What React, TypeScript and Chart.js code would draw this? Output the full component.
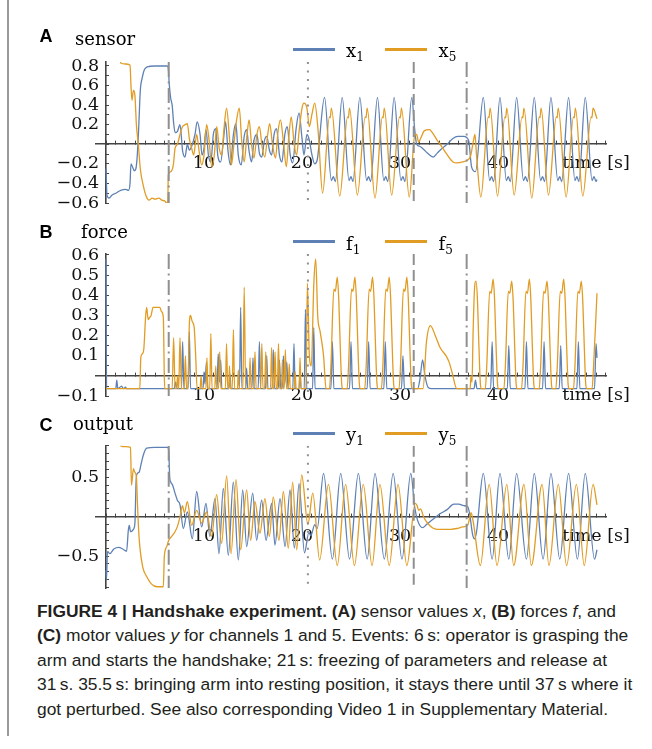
import React, { useEffect, useRef } from 'react';
import { Chart, registerables } from 'chart.js';

Chart.register(...registerables);

type Pt = [number, number];

const BLUE = '#5E81B5';
const ORANGE = '#E19C24';
const EVENT_GRAY = '#8f8f8f';
const AXIS_COLOR = '#444444';
const TEXT_COLOR = '#111111';
const SERIF = "'DejaVu Serif', serif";
const SANS = "'Liberation Sans', Arial, sans-serif";

const PAGE_W = 652;
const X_MIN = -1.0;
const X_MAX = 51.1;
const PLOT_LEFT = 96.2;
const PLOT_RIGHT = 606.8;

// x axis ticks (seconds)
const xTickValues = Array.from({ length: 52 }, (_, i) => i);
const xLabelValues = [10, 20, 30, 40, 50];
const xLabels = ['10', '20', '30', '40', 'time [s]'];

// event markers (s) and their line styles
const eventTimes = [6.4, 20.6, 31.4, 36.8];
const eventStyles = ['dotdash', 'dotted', 'dashed', 'dotdash'];

// ---------- Panel A: sensor ----------
const sensorYMin = -0.6;
const sensorYMax = 0.84;
const sensorYTicks = [-0.6, -0.5, -0.4, -0.3, -0.2, -0.1, 0, 0.1, 0.2, 0.3, 0.4, 0.5, 0.6, 0.7, 0.8];
const sensorYLabelValues = [-0.6, -0.4, -0.2, 0.2, 0.4, 0.6, 0.8];
const sensorYLabels = ['−0.6', '−0.4', '−0.2', '0.2', '0.4', '0.6', '0.8'];

const x1: Pt[] = [
  [0.0, -0.25], [0.1, -0.52], [0.3, -0.55], [0.6, -0.52], [1.0, -0.5], [1.5, -0.47], [2.0, -0.46], [2.3, -0.47],
  [2.45, -0.4], [2.55, -0.2], [2.7, -0.23], [2.9, -0.27], [3.05, -0.25], [3.2, -0.1], [3.35, 0.2], [3.5, 0.55],
  [3.7, 0.68], [3.9, 0.76], [4.2, 0.79], [5.0, 0.8], [6.25, 0.8], [6.35, 0.78], [6.45, 0.62], [6.6, 0.47],
  [6.75, 0.4], [6.9, 0.22], [7.05, 0.12], [7.28, 0.13], [7.55, 0.2], [7.82, -0.07], [8.06, -0.13], [8.3, 0.0],
  [8.5, -0.06], [8.74, -0.02], [9.08, 0.1], [9.3, 0.23], [9.6, 0.1], [9.8, -0.11], [10.0, -0.04], [10.2, 0.15],
  [10.45, -0.11], [10.7, -0.18], [10.95, 0.1], [11.2, 0.16], [11.4, -0.11], [11.7, -0.18], [12.0, 0.06], [12.2, 0.23],
  [12.45, -0.07], [12.7, -0.21], [13.0, 0.1], [13.25, 0.21], [13.5, -0.11], [13.8, -0.21], [14.1, 0.08], [14.35, 0.15],
  [14.6, -0.07], [14.85, -0.18], [15.1, 0.04], [15.4, 0.1], [15.65, -0.09], [15.9, -0.13], [16.15, 0.03], [16.4, 0.08],
  [16.7, -0.07], [16.9, -0.11], [17.15, 0.1], [17.4, 0.16], [17.7, -0.11], [17.95, -0.18], [18.25, 0.1], [18.5, 0.18],
  [18.8, -0.11], [19.05, -0.19], [19.4, 0.16], [19.7, 0.32], [20.0, 0.06], [20.2, -0.11], [20.5, 0.1], [20.75, 0.04],
  [21.0, -0.1], [21.3, -0.2], [21.55, -0.16], [22.3, 0.48],
  [23.0, -0.37], [23.2, -0.33], [23.4, -0.38], [24.1, 0.48],
  [24.8, -0.37], [25.0, -0.33], [25.2, -0.38], [25.9, 0.48],
  [26.6, -0.37], [26.8, -0.33], [27.0, -0.38], [27.7, 0.48],
  [28.35, -0.37], [28.55, -0.33], [28.75, -0.38], [29.4, 0.48],
  [30.1, -0.37], [30.3, -0.33], [30.5, -0.38], [31.2, 0.48],
  [31.5, 0.15], [31.7, 0.0], [32.0, -0.02], [32.4, -0.05], [32.8, -0.09], [33.4, -0.13], [33.8, -0.09], [34.2, -0.05],
  [34.8, 0.0], [35.4, 0.06], [35.9, 0.08], [36.5, 0.08], [37.0, 0.04], [37.3, -0.23], [37.7, -0.28], [38.5, 0.48],
  [39.15, -0.37], [39.35, -0.33], [39.55, -0.38], [40.2, 0.48],
  [40.85, -0.37], [41.05, -0.33], [41.25, -0.38], [41.9, 0.48],
  [42.6, -0.37], [42.8, -0.33], [43.0, -0.38], [43.7, 0.48],
  [44.35, -0.37], [44.55, -0.33], [44.75, -0.38], [45.4, 0.48],
  [46.1, -0.37], [46.3, -0.33], [46.5, -0.38], [47.2, 0.48],
  [47.85, -0.37], [48.05, -0.33], [48.25, -0.38], [48.9, 0.48],
  [49.6, -0.37], [49.8, -0.33], [50.0, -0.38], [50.1, -0.36],
];

const x5: Pt[] = [
  [0.0, 0.95], [1.4, 0.95], [1.5, 0.83], [2.0, 0.82], [2.45, 0.81], [2.55, 0.6], [2.65, 0.45], [2.8, 0.55],
  [2.95, 0.5], [3.1, 0.2], [3.3, 0.0], [3.5, -0.25], [3.8, -0.42], [4.1, -0.53], [4.4, -0.57], [4.7, -0.55],
  [5.0, -0.56], [5.4, -0.55], [5.7, -0.57], [6.0, -0.58], [6.2, -0.6], [6.3, -0.58], [6.36, -0.31], [6.6, -0.28],
  [6.87, -0.21], [7.05, -0.04], [7.28, 0.0], [7.55, 0.1], [7.8, 0.18], [8.06, 0.2], [8.3, 0.21], [8.5, 0.06],
  [8.74, -0.04], [8.95, -0.11], [9.25, 0.1], [9.5, -0.07], [9.76, -0.21], [10.0, -0.11], [10.27, 0.2], [10.5, 0.06],
  [10.8, -0.23], [11.05, -0.11], [11.3, 0.18], [11.55, -0.04], [11.8, -0.11], [12.04, 0.16], [12.3, 0.37], [12.6, 0.06],
  [12.8, -0.21], [13.05, 0.0], [13.3, 0.23], [13.6, 0.37], [13.85, 0.03], [14.1, -0.18], [14.35, 0.06], [14.6, 0.25],
  [14.85, 0.0], [15.1, -0.14], [15.4, 0.1], [15.65, 0.18], [15.95, -0.04], [16.2, -0.13], [16.5, 0.1], [16.7, 0.21],
  [17.0, -0.01], [17.3, -0.14], [17.55, 0.13], [17.8, 0.25], [18.1, 0.03], [18.4, -0.23], [18.64, 0.06], [18.9, 0.28],
  [19.2, 0.0], [19.45, -0.11], [19.7, 0.13], [20.0, 0.37], [20.2, 0.42], [20.5, 0.37], [20.75, 0.18], [21.0, 0.3],
  [21.3, 0.42], [21.65, 0.13], [22.1, -0.5],
  [22.8, 0.28], [22.88, 0.27], [23.0, 0.37], [23.85, -0.53],
  [24.65, 0.28], [24.73, 0.27], [24.85, 0.37], [25.65, -0.52],
  [26.45, 0.28], [26.53, 0.27], [26.65, 0.37], [27.45, -0.55],
  [28.2, 0.28], [28.28, 0.27], [28.4, 0.37], [29.15, -0.52],
  [29.95, 0.28], [30.03, 0.27], [30.15, 0.37], [30.95, -0.54],
  [31.5, 0.09], [31.7, 0.1], [31.9, 0.02], [32.1, 0.06], [32.5, 0.14], [33.0, 0.15], [33.3, 0.12], [33.8, 0.04],
  [34.1, 0.0], [34.7, -0.09], [35.4, -0.18], [35.8, -0.19], [36.4, -0.18], [36.9, -0.16], [37.2, -0.12], [37.5, 0.04],
  [37.65, 0.1], [37.8, -0.1], [38.25, -0.54],
  [39.0, 0.28], [39.08, 0.27], [39.2, 0.37], [39.95, -0.53],
  [40.7, 0.28], [40.78, 0.27], [40.9, 0.37], [41.65, -0.52],
  [42.45, 0.28], [42.53, 0.27], [42.65, 0.37], [43.45, -0.55],
  [44.2, 0.28], [44.28, 0.27], [44.4, 0.37], [45.15, -0.52],
  [45.95, 0.28], [46.03, 0.27], [46.15, 0.37], [46.95, -0.54],
  [47.7, 0.28], [47.78, 0.27], [47.9, 0.37], [48.65, -0.53],
  [49.5, 0.28], [49.58, 0.27], [49.7, 0.37], [50.1, 0.26],
];

// ---------- Panel B: force ----------
const forceYMin = -0.1;
const forceYMax = 0.605;
const forceYTicks = [-0.1, -0.05, 0, 0.05, 0.1, 0.15, 0.2, 0.25, 0.3, 0.35, 0.4, 0.45, 0.5, 0.55, 0.6];
const forceYLabelValues = [-0.1, 0.1, 0.2, 0.3, 0.4, 0.5, 0.6];
const forceYLabels = ['−0.1', '0.1', '0.2', '0.3', '0.4', '0.5', '0.6'];

const f1: Pt[] = [
  [0.0, 0.58], [0.06, -0.063], [1.0, -0.063], [1.1, -0.02], [1.2, -0.063], [1.6, -0.05], [1.75, -0.063], [2.0, -0.055],
  [2.1, -0.063], [6.95, -0.063], [7.1, -0.03], [7.25, -0.063],
  [7.7, -0.063], [7.82, 0.17], [7.95, -0.063],
  [8.38, -0.063], [8.5, 0.22], [8.63, -0.063],
  [9.9, -0.063], [10.0, 0.02], [10.1, -0.04], [10.25, 0.07], [10.38, -0.063],
  [11.33, -0.063], [11.45, 0.11], [11.57, -0.03], [11.7, 0.08], [11.82, -0.063],
  [12.55, -0.063], [12.65, 0.01], [12.75, -0.063],
  [13.62, -0.063], [13.74, 0.34], [13.87, -0.063],
  [14.25, -0.063], [14.35, 0.04], [14.45, -0.063],
  [14.88, -0.063], [15.0, 0.09], [15.12, -0.063],
  [15.53, -0.063], [15.65, 0.17], [15.78, -0.063],
  [16.28, -0.063], [16.4, 0.1], [16.52, -0.063],
  [16.95, -0.063], [17.07, 0.13], [17.2, -0.063],
  [17.58, -0.063], [17.7, 0.08], [17.82, -0.063],
  [17.98, -0.063], [18.1, 0.1], [18.22, -0.04], [18.45, 0.07], [18.57, -0.063],
  [19.06, -0.063], [19.18, 0.16], [19.3, -0.063],
  [19.7, -0.063], [19.8, 0.02], [19.9, -0.063],
  [20.23, -0.063], [20.35, 0.33], [20.48, -0.063],
  [21.08, -0.063], [21.2, 0.24], [21.33, -0.063],
  [22.95, -0.063], [23.1, 0.17], [23.25, -0.063],
  [24.85, -0.063], [25.0, 0.17], [25.15, -0.063],
  [26.65, -0.063], [26.8, 0.17], [26.95, -0.063],
  [28.35, -0.063], [28.5, 0.17], [28.65, -0.063],
  [30.15, -0.063], [30.3, 0.1], [30.45, -0.063],
  [31.8, -0.063], [32.05, -0.01], [32.3, 0.08], [32.55, 0.0], [32.85, -0.055], [33.2, -0.063],
  [37.55, -0.063], [37.7, -0.02], [37.85, -0.063],
  [39.25, -0.063], [39.4, 0.17], [39.55, -0.063],
  [40.95, -0.063], [41.1, 0.15], [41.25, -0.063],
  [42.75, -0.063], [42.9, 0.17], [43.05, -0.063],
  [44.55, -0.063], [44.7, 0.17], [44.85, -0.063],
  [46.25, -0.063], [46.4, 0.15], [46.55, -0.063],
  [48.05, -0.063], [48.2, 0.17], [48.35, -0.063],
  [49.85, -0.063], [50.0, 0.16], [50.1, 0.09],
];

const f5: Pt[] = [
  [0.0, -0.063], [3.45, -0.063], [3.55, 0.09], [3.7, 0.11], [3.85, 0.13], [4.05, 0.3], [4.15, 0.34], [4.3, 0.28],
  [4.45, 0.29], [4.6, 0.3], [4.8, 0.34], [5.5, 0.34], [5.65, 0.32], [5.85, 0.29], [5.95, 0.0], [6.0, -0.063],
  [6.75, -0.063], [6.9, 0.19], [7.05, -0.063],
  [7.2, -0.063], [7.3, 0.0], [7.4, -0.063],
  [7.42, -0.063], [7.55, 0.19], [7.7, -0.063],
  [7.98, -0.063], [8.1, 0.1], [8.22, -0.063],
  [8.35, -0.063], [8.5, 0.25], [8.62, 0.3], [8.8, 0.27], [9.0, 0.24], [9.15, 0.1], [9.3, -0.063],
  [9.6, -0.063], [9.7, 0.0], [9.8, -0.063],
  [10.2, -0.063], [10.3, 0.09], [10.4, -0.063],
  [10.58, -0.063], [10.7, 0.21], [10.82, -0.063],
  [11.1, -0.063], [11.2, 0.05], [11.3, -0.063],
  [11.48, -0.063], [11.6, 0.12], [11.72, -0.063],
  [12.18, -0.063], [12.3, 0.16], [12.42, -0.063],
  [12.52, -0.063], [12.6, 0.05], [12.7, -0.063],
  [12.88, -0.063], [13.0, 0.23], [13.12, -0.063],
  [13.42, -0.063], [13.5, 0.03], [13.6, -0.063],
  [13.97, -0.063], [14.1, 0.44], [14.25, -0.063],
  [14.6, -0.063], [14.7, 0.09], [14.8, -0.063],
  [15.08, -0.063], [15.2, 0.12], [15.32, -0.063],
  [15.78, -0.063], [15.9, 0.16], [16.02, -0.063],
  [16.18, -0.063], [16.3, 0.12], [16.42, -0.063],
  [16.78, -0.063], [16.9, 0.14], [17.02, -0.063],
  [17.13, -0.063], [17.25, 0.12], [17.37, -0.063],
  [17.48, -0.063], [17.6, 0.16], [17.72, -0.063],
  [17.9, -0.063], [18.0, 0.08], [18.1, -0.063],
  [18.18, -0.063], [18.3, 0.13], [18.42, -0.063],
  [18.6, -0.063], [18.7, 0.06], [18.8, -0.063],
  [19.2, -0.063], [19.3, 0.02], [19.4, -0.063],
  [19.7, -0.063], [19.8, 0.09], [19.9, -0.063],
  [20.4, -0.063], [20.55, 0.46], [20.75, 0.1], [20.95, 0.05], [21.2, 0.45], [21.4, 0.58], [21.6, 0.3], [21.85, 0.22],
  [22.2, 0.1], [22.45, -0.063],
  [22.8, -0.063], [22.95, 0.05], [23.25, 0.43], [23.4, 0.42], [23.6, 0.49], [23.75, 0.38], [23.9, 0.15], [24.05, -0.04], [24.15, -0.063],
  [24.6, -0.063], [24.75, 0.05], [25.05, 0.43], [25.2, 0.42], [25.4, 0.49], [25.55, 0.38], [25.7, 0.15], [25.85, -0.04], [25.95, -0.063],
  [26.4, -0.063], [26.55, 0.05], [26.85, 0.43], [27.0, 0.42], [27.2, 0.49], [27.35, 0.38], [27.5, 0.15], [27.65, -0.04], [27.75, -0.063],
  [28.1, -0.063], [28.25, 0.05], [28.55, 0.43], [28.7, 0.42], [28.9, 0.49], [29.05, 0.38], [29.2, 0.15], [29.35, -0.04], [29.45, -0.063],
  [29.9, -0.063], [30.05, 0.05], [30.35, 0.43], [30.5, 0.42], [30.7, 0.49], [30.85, 0.38], [31.0, 0.15], [31.15, -0.04], [31.25, -0.063],
  [32.35, -0.063], [32.7, 0.17], [33.1, 0.25], [33.6, 0.2], [34.1, 0.14], [34.7, 0.1], [35.0, 0.07], [35.3, 0.02], [35.8, -0.063],
  [37.15, -0.063], [37.25, 0.0], [37.35, -0.03], [37.45, 0.2], [37.6, 0.43], [37.75, 0.47], [37.9, 0.38], [38.05, 0.15], [38.2, -0.04], [38.3, -0.063],
  [38.7, -0.063], [38.85, 0.05], [39.15, 0.42], [39.3, 0.41], [39.5, 0.48], [39.65, 0.38], [39.8, 0.15], [39.95, -0.04], [40.05, -0.063],
  [40.6, -0.063], [40.75, 0.05], [41.05, 0.42], [41.2, 0.41], [41.4, 0.47], [41.55, 0.37], [41.7, 0.15], [41.85, -0.04], [41.95, -0.063],
  [42.4, -0.063], [42.55, 0.05], [42.85, 0.42], [43.0, 0.41], [43.2, 0.48], [43.35, 0.38], [43.5, 0.15], [43.65, -0.04], [43.75, -0.063],
  [44.2, -0.063], [44.35, 0.05], [44.65, 0.42], [44.8, 0.41], [45.0, 0.47], [45.15, 0.37], [45.3, 0.15], [45.45, -0.04], [45.55, -0.063],
  [45.9, -0.063], [46.05, 0.05], [46.35, 0.42], [46.5, 0.41], [46.7, 0.48], [46.85, 0.38], [47.0, 0.15], [47.15, -0.04], [47.25, -0.063],
  [47.7, -0.063], [47.85, 0.05], [48.15, 0.42], [48.3, 0.41], [48.5, 0.47], [48.65, 0.37], [48.8, 0.15], [48.95, -0.04], [49.05, -0.063],
  [49.6, -0.063], [49.75, 0.05], [50.1, 0.41],
];

// ---------- Panel C: output ----------
const outputYMin = -0.91;
const outputYMax = 0.9;
const outputYTicks = [-0.9, -0.8, -0.7, -0.6, -0.5, -0.4, -0.3, -0.2, -0.1, 0, 0.1, 0.2, 0.3, 0.4, 0.5, 0.6, 0.7, 0.8, 0.9];
const outputYLabelValues = [-0.5, 0.5];
const outputYLabels = ['−0.5', '0.5'];

const y1: Pt[] = [
  [0.0, -0.68], [0.05, -0.8], [0.15, -0.44], [0.4, -0.47], [0.8, -0.41], [1.3, -0.39], [1.7, -0.41], [2.1, -0.44],
  [2.28, -0.17], [2.38, -0.11], [2.5, -0.19], [2.8, -0.16], [2.95, -0.08], [3.08, 0.47], [3.2, 0.55], [3.4, 0.57],
  [3.6, 0.68], [3.85, 0.8], [4.15, 0.87], [5.0, 0.88], [6.3, 0.88], [6.4, 0.84], [6.5, 0.5], [6.6, 0.44],
  [6.8, 0.4], [7.04, 0.3], [7.28, 0.21], [7.55, 0.15], [7.89, -0.15], [8.3, 0.06], [8.81, -0.28], [9.25, 0.32],
  [9.76, -0.13], [10.2, 0.17], [10.6, -0.25], [11.12, 0.23], [11.53, -0.47], [11.97, 0.36], [12.48, -0.49], [12.99, 0.44],
  [13.5, -0.55], [13.95, 0.34], [14.35, -0.38], [14.97, 0.3], [15.37, -0.3], [15.88, 0.21], [16.33, -0.3], [16.9, 0.17],
  [17.24, -0.36], [17.76, 0.23], [18.27, -0.38], [18.78, 0.34], [19.22, -0.4], [19.7, 0.42], [20.25, -0.46], [20.7, -0.2],
  [20.9, -0.24], [21.3, -0.1], [21.55, -0.15], [22.2, 0.55],
  [23.1, -0.54], [23.95, 0.55], [24.85, -0.54], [25.75, 0.55], [26.65, -0.54], [27.45, 0.55], [28.4, -0.54], [29.3, 0.55],
  [30.2, -0.54], [31.1, 0.55],
  [31.5, 0.12], [31.8, -0.05], [32.3, -0.14], [32.7, -0.1], [33.3, -0.04], [34.0, 0.03], [34.8, 0.09], [35.5, 0.16],
  [36.0, 0.16], [36.5, 0.14], [36.9, 0.13], [37.1, 0.04], [37.4, -0.22], [37.6, -0.28], [37.8, -0.2], [38.5, 0.55],
  [39.4, -0.54], [40.2, 0.55], [41.1, -0.54], [41.9, 0.55], [42.9, -0.54], [43.7, 0.55], [44.6, -0.54], [45.4, 0.55],
  [46.3, -0.54], [47.2, 0.55], [48.1, -0.54], [48.9, 0.55], [49.85, -0.54], [50.1, -0.42],
];

const y5: Pt[] = [
  [0.0, 0.95], [1.4, 0.95], [1.5, 0.9], [2.0, 0.89], [2.5, 0.88], [2.6, 0.4], [2.8, 0.61], [2.92, 0.57],
  [3.1, 0.51], [3.2, 0.2], [3.3, -0.1], [3.45, -0.38], [3.75, -0.64], [4.15, -0.76], [4.6, -0.85], [5.2, -0.89],
  [5.85, -0.89], [5.95, -0.51], [6.2, -0.38], [6.4, -0.3], [6.7, -0.25], [7.0, -0.2], [7.3, -0.12], [7.55, 0.0],
  [7.8, 0.14], [8.0, 0.05], [8.3, 0.19], [8.74, -0.11], [9.25, 0.08], [9.76, -0.08], [10.27, 0.06], [10.78, -0.25],
  [11.29, 0.28], [11.8, -0.34], [12.31, 0.52], [12.76, -0.47], [13.27, 0.47], [13.74, -0.42], [14.35, 0.34], [14.76, -0.3],
  [15.2, 0.19], [15.71, -0.21], [16.22, 0.23], [16.67, -0.25], [17.07, 0.25], [17.65, -0.3], [18.1, 0.32], [18.6, -0.4],
  [19.05, 0.44], [19.46, -0.42], [19.97, 0.53], [20.6, -0.1], [21.1, 0.3], [21.8, -0.55],
  [22.7, 0.41], [23.6, -0.62], [24.45, 0.41], [25.35, -0.62], [26.25, 0.41], [27.15, -0.62], [27.95, 0.41], [28.9, -0.62],
  [29.8, 0.41], [30.7, -0.62],
  [31.55, 0.17], [31.75, 0.14], [31.9, 0.08], [32.1, 0.1], [32.4, 0.0], [32.8, -0.08], [33.3, -0.14], [33.8, -0.16],
  [35.2, -0.16], [35.8, -0.15], [36.4, -0.13], [36.9, -0.11], [37.1, -0.02], [37.25, 0.05], [37.45, -0.05], [38.2, -0.62],
  [39.1, 0.41], [39.9, -0.62], [40.9, 0.41], [41.6, -0.62], [42.65, 0.41], [43.4, -0.62], [44.5, 0.41], [45.2, -0.62],
  [46.15, 0.41], [47.0, -0.62], [48.0, 0.41], [48.8, -0.62], [49.7, 0.41], [50.1, 0.15],
];

// ---------- helpers ----------
const dashFor = (style: string): number[] =>
  style === 'dotted' ? [2, 6.5] : style === 'dashed' ? [11, 5] : [15, 4.5, 2, 4.5];

const labelFor = (v: number, values: number[], labels: string[]) => {
  for (let i = 0; i < values.length; i++) {
    if (Math.abs(values[i] - v) < 1e-6) return labels[i];
  }
  return '';
};

type PanelProps = {
  top: number;
  height: number;
  padTop: number;
  padBottom: number;
  yMin: number;
  yMax: number;
  yTicks: number[];
  yLabelValues: number[];
  yLabels: string[];
  blue: Pt[];
  orange: Pt[];
};

function Panel(p: PanelProps) {
  const ref = useRef<HTMLCanvasElement>(null);
  useEffect(() => {
    const canvas = ref.current;
    if (!canvas) return;
    const tickFont = { family: SERIF, size: 17.5 };
    const eventSets = eventTimes.map((t, i) => ({
      data: [{ x: t, y: p.yMax }, { x: t, y: p.yMin }],
      borderColor: EVENT_GRAY,
      borderWidth: 2,
      borderDash: dashFor(eventStyles[i]),
      borderCapStyle: 'butt' as const,
      pointRadius: 0,
      tension: 0,
      order: -1,
    }));
    const chart = new Chart(canvas, {
      type: 'line',
      data: {
        datasets: [
          {
            data: p.orange.map(([x, y]) => ({ x, y })),
            borderColor: ORANGE,
            borderWidth: 1.3,
            pointRadius: 0,
            cubicInterpolationMode: 'monotone',
            borderJoinStyle: 'round',
            order: 0,
          },
          {
            data: p.blue.map(([x, y]) => ({ x, y })),
            borderColor: BLUE,
            borderWidth: 1.3,
            pointRadius: 0,
            cubicInterpolationMode: 'monotone',
            borderJoinStyle: 'round',
            order: 1,
          },
          ...eventSets,
        ] as any,
      },
      options: {
        animation: false,
        responsive: false,
        devicePixelRatio: 1,
        events: [],
        layout: {
          autoPadding: false,
          padding: { left: PLOT_LEFT, right: PAGE_W - PLOT_RIGHT, top: p.padTop, bottom: p.padBottom },
        },
        plugins: { legend: { display: false }, tooltip: { enabled: false } },
        scales: {
          x: {
            type: 'linear',
            min: X_MIN,
            max: X_MAX,
            position: { y: 0 } as any,
            afterFit: (s: any) => {
              s.height = 0;
              s.paddingLeft = 0;
              s.paddingRight = 0;
            },
            afterBuildTicks: (s: any) => {
              s.ticks = xTickValues.map((v) => ({ value: v }));
            },
            grid: { display: true, drawOnChartArea: false, drawTicks: true, tickLength: -4, tickColor: AXIS_COLOR, tickWidth: 1 },
            border: { display: true, color: AXIS_COLOR, width: 1.6 },
            ticks: {
              autoSkip: false,
              maxRotation: 0,
              minRotation: 0,
              padding: 13,
              color: TEXT_COLOR,
              font: tickFont,
              callback: (v: any) => labelFor(Number(v), xLabelValues, xLabels),
            },
          },
          y: {
            type: 'linear',
            min: p.yMin,
            max: p.yMax,
            position: { x: 0 } as any,
            afterFit: (s: any) => {
              s.width = 0;
              s.paddingTop = 0;
              s.paddingBottom = 0;
            },
            afterBuildTicks: (s: any) => {
              s.ticks = p.yTicks.map((v) => ({ value: v }));
            },
            grid: { display: true, drawOnChartArea: false, drawTicks: true, tickLength: -4, tickColor: AXIS_COLOR, tickWidth: 1 },
            border: { display: true, color: AXIS_COLOR, width: 1.6 },
            ticks: {
              autoSkip: false,
              color: TEXT_COLOR,
              font: tickFont,
              callback: (v: any) => {
                const l = labelFor(Number(v), p.yLabelValues, p.yLabels);
                return l ? l + '\u2009\u2009' : '';
              },
            },
          },
        },
      } as any,
    });
    return () => chart.destroy();
  }, []);
  return (
    <canvas
      ref={ref}
      width={PAGE_W}
      height={p.height}
      style={{ position: 'absolute', left: 0, top: p.top, width: PAGE_W, height: p.height }}
    />
  );
}

const abs = (left: number, top: number, extra: React.CSSProperties = {}): React.CSSProperties => ({
  position: 'absolute',
  left,
  top,
  whiteSpace: 'nowrap',
  ...extra,
});

function Title({ letter, word, top, letterLeft, wordLeft, wordTop }: any) {
  return (
    <>
      <div style={abs(letterLeft, top, { fontFamily: SANS, fontWeight: 700, fontSize: 18, lineHeight: '18px', color: '#000' })}>{letter}</div>
      <div style={abs(wordLeft, wordTop, { fontFamily: SERIF, fontSize: 18, lineHeight: '18px', color: '#000' })}>{word}</div>
    </>
  );
}

function Legend({ name, lineY, textTop }: { name: string; lineY: number; textTop: number }) {
  const sub = (s: string) => (
    <span style={{ fontSize: 12, position: 'relative', top: 4, lineHeight: '0' }}>{s}</span>
  );
  return (
    <>
      <div style={abs(292.5, lineY - 1.3, { width: 42, height: 2.6, background: BLUE })} />
      <div style={abs(346, textTop, { fontFamily: SERIF, fontSize: 18, lineHeight: '18px', color: '#000' })}>
        {name}
        {sub('1')}
      </div>
      <div style={abs(385, lineY - 1.3, { width: 42, height: 2.6, background: ORANGE })} />
      <div style={abs(438.5, textTop, { fontFamily: SERIF, fontSize: 18, lineHeight: '18px', color: '#000' })}>
        {name}
        {sub('5')}
      </div>
    </>
  );
}

const captionStyle = (top: number): React.CSSProperties =>
  abs(37, top, { fontFamily: SANS, fontSize: 17.4, lineHeight: '24.5px', color: '#231f20' });

export default function App() {
  return (
    <div style={{ position: 'absolute', left: 0, top: 0, width: PAGE_W, height: 749, background: '#fff', overflow: 'hidden' }}>
      <div style={abs(6.5, 0, { width: 2, height: 736, background: '#9a9a9a' })} />
      <Panel top={0} height={215} padTop={62.06} padBottom={11.96} yMin={sensorYMin} yMax={sensorYMax}
        yTicks={sensorYTicks} yLabelValues={sensorYLabelValues} yLabels={sensorYLabels} blue={x1} orange={x5} />
      <Panel top={215} height={190} padTop={38.97} padBottom={8.83} yMin={forceYMin} yMax={forceYMax}
        yTicks={forceYTicks} yLabelValues={forceYLabelValues} yLabels={forceYLabels} blue={f1} orange={f5} />
      <Panel top={405} height={190} padTop={40.87} padBottom={6.68} yMin={outputYMin} yMax={outputYMax}
        yTicks={outputYTicks} yLabelValues={outputYLabelValues} yLabels={outputYLabels} blue={y1} orange={y5} />

      <Title letter="A" word="sensor" top={27.4} letterLeft={39.5} wordLeft={75} wordTop={29.8} />
      <Title letter="B" word="force" top={223} letterLeft={39.5} wordLeft={81} wordTop={223.1} />
      <Title letter="C" word="output" top={416.4} letterLeft={39.5} wordLeft={73} wordTop={414.8} />

      <Legend name="x" lineY={49.7} textTop={41.5} />
      <Legend name="f" lineY={241.7} textTop={234.8} />
      <Legend name="y" lineY={433.7} textTop={425.8} />

      <div style={captionStyle(598.75)}>
        <b>FIGURE 4 | Handshake experiment. (A)</b> sensor values <i>x</i>, <b>(B)</b> forces <i>f</i>, and
      </div>
      <div style={captionStyle(623.25)}>
        <b>(C)</b> motor values <i>y</i> for channels 1 and 5. Events: 6{'\u2009'}s: operator is grasping the
      </div>
      <div style={captionStyle(647.75)}>
        arm and starts the handshake; 21{'\u2009'}s: freezing of parameters and release at
      </div>
      <div style={captionStyle(672.25)}>
        31{'\u2009'}s. 35.5{'\u2009'}s: bringing arm into resting position, it stays there until 37{'\u2009'}s where it
      </div>
      <div style={captionStyle(696.75)}>
        got perturbed. See also corresponding Video 1 in Supplementary Material.
      </div>
    </div>
  );
}
